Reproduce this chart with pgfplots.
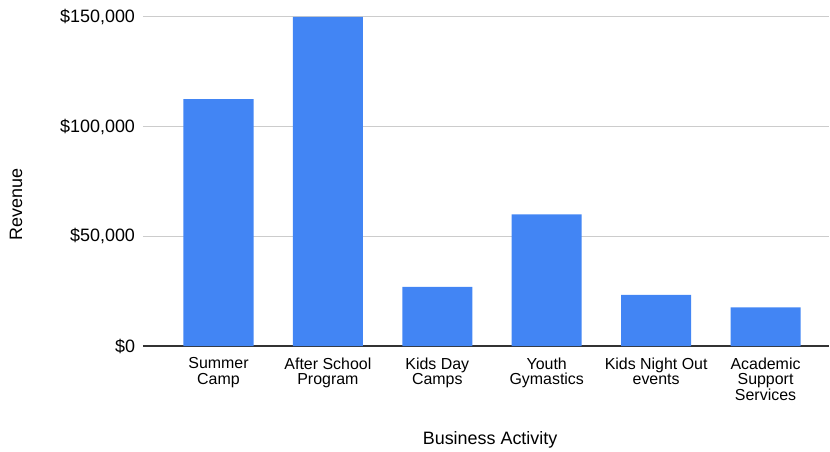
\documentclass[border=0pt]{standalone}
\usepackage{pgfplots}
\pgfplotsset{compat=1.18}
\usepackage{fontspec}
\setmainfont{Liberation Sans}
\definecolor{barblue}{HTML}{4285F4}
\definecolor{gridgray}{HTML}{CCCCCC}
\definecolor{basegray}{HTML}{333333}
\begin{document}
\begin{tikzpicture}
\begin{axis}[
  scale only axis, width=686bp, height=329bp,
  xmin=-0.69, xmax=5.58, ymin=0, ymax=150000,
  scaled y ticks=false,
  axis line style={draw=none},
  major tick length=0pt,
  ybar, bar width=0.64,
  xtick={0,1,2,3,4,5},
  xticklabels={{Summer\\Camp},{After School\\Program},{Kids Day\\Camps},{Youth\\Gymastics},{Kids Night Out\\events},{Academic\\Support\\Services}},
  xticklabel style={align=center, font=\fontsize{16}{15.8}\selectfont, yshift=-8bp},
  ytick={50000,100000,150000},
  yticklabels={{\$50,000},{\$100,000},{\$150,000}},
  extra y ticks={0}, extra y tick labels={\$0},
  extra y tick style={ymajorgrids=true, grid style={draw=basegray, line width=1.2bp}},
  yticklabel style={font=\fontsize{18}{20}\selectfont, xshift=-4.5bp},
  ymajorgrids=true,
  grid style={draw=gridgray, line width=1bp},
  xlabel={Business Activity},
  ylabel={Revenue},
  xlabel style={at={(axis description cs:0.506,-0.285)}, anchor=center, font=\fontsize{18}{20}\selectfont},
  ylabel style={at={(axis description cs:-0.185,0.431)}, anchor=center, rotate=0, font=\fontsize{18}{20}\selectfont},
  clip=false,
]
\addplot[fill=barblue, draw=none] coordinates {(0,112500) (1,150000) (2,27000) (3,60000) (4,23300) (5,17600)};
\coordinate (sw) at (rel axis cs:0,0);
\coordinate (ne) at (rel axis cs:1,1);
\end{axis}
\pgfresetboundingbox
\path ([shift={(-143bp,-106bp)}]sw) rectangle ([shift={(1bp,17bp)}]ne);
\end{tikzpicture}
\end{document}
